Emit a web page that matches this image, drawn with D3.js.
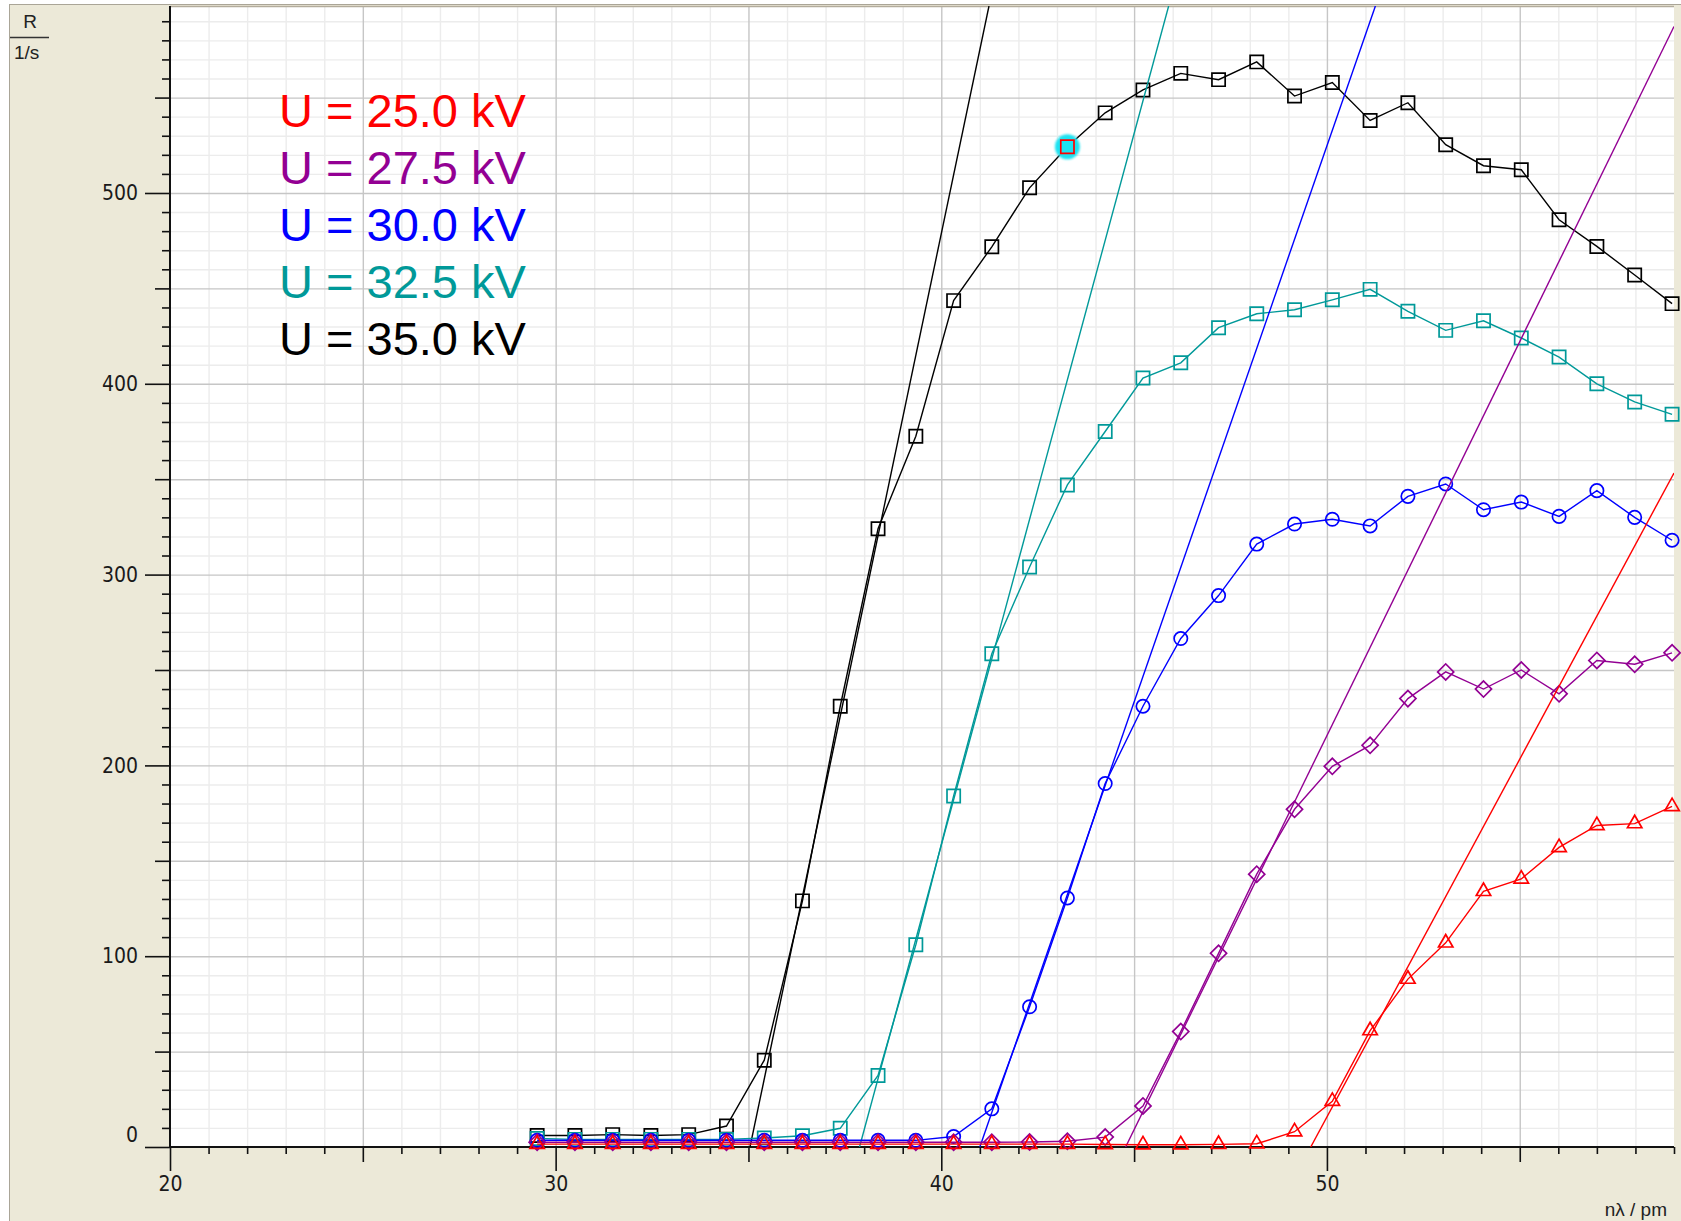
<!DOCTYPE html>
<html>
<head>
<meta charset="utf-8">
<script src="https://cdn.jsdelivr.net/npm/d3@7"></script>
<style>
  body { margin: 0; background: #fff; }
  svg { display: block; }
</style>
</head>
<body>
<svg></svg>
<script>
// wavelength of each measured point (pm)
let lambda = [29.52, 30.50, 31.48, 32.47, 33.45, 34.43, 35.41, 36.40, 37.38, 38.36,
              39.34, 40.32, 41.31, 42.29, 43.27, 44.25, 45.23, 46.21, 47.19, 48.18,
              49.16, 50.14, 51.12, 52.10, 53.08, 54.06, 55.04, 56.02, 57.00, 57.98, 58.95];

// counting rate R in 1/s, one list per tube voltage
let rate25 = [1.5, 1.5, 1.5, 1.5, 1.5, 1.5, 1.5, 1.5, 1.5, 1.5,
              1.5, 1.5, 1.5, 1.5, 1.5, 1.3, 1.2, 1.2, 1.4, 1.7,
              8, 24, 61, 88, 107, 134, 140.5, 157, 168.5, 169.5, 178.5];
let rate275 = [2.5, 2.5, 2.5, 2.5, 2.5, 2.5, 2.5, 2.5, 2.5, 2.5,
               2.5, 2.5, 2.5, 2.6, 3, 5.2, 21.5, 60.5, 101.5, 143, 177,
               199.5, 210.5, 235, 249, 240, 250, 237.5, 255, 253, 259];
let rate30 = [3.5, 3.5, 3.5, 3.5, 3.5, 3.5, 3.5, 3.5, 3.5, 3.5,
              3.5, 5.5, 20, 73.5, 130.5, 190.5, 231, 266.5, 289, 316,
              326.5, 329, 325.5, 341, 347.5, 334, 338, 330.5, 344, 330, 318];
let rate325 = [4.5, 4, 4, 4, 4, 4, 4.7, 5.9, 9.8, 37.5,
               106, 184, 258.5, 304, 347, 375, 403, 411, 429.4, 436.7,
               438.8, 444, 449.5, 438, 428, 433, 424, 414, 400, 390.5, 384];
let rate35 = [6, 6, 6.5, 6, 6.5, 11, 45.5, 129, 231, 324,
              372.5, 443.6, 471.8, 502.7, 524.2, 542, 554, 562.7, 559.4, 568.7,
              550.8, 557.9, 538, 547.3, 525.3, 514.3, 512.2, 486, 472, 457, 442];

let rates = [rate25, rate275, rate30, rate325, rate35];
let voltages = ['25.0', '27.5', '30.0', '32.5', '35.0'];
let colors = ['#ff0000', '#930093', '#0000ff', '#009999', '#000000'];
let markers = ['triangle', 'diamond', 'circle', 'square', 'square'];

// straight-line fits of the rising edge: lambda where R = 0 and slope (1/s per pm)
let fitStart = [49.58, 44.78, 41.0, 37.88, 35.04];
let fitSlope = [37.5, 41.3, 58.3, 74.6, 96.5];

// highlighted point (35 kV series)
let markedIndex = 14;

let xLabelTicks = [20, 30, 40, 50];
let yLabelTicks = [0, 100, 200, 300, 400, 500];

let width = 1681;
let height = 1221;
let plotLeft = 170;
let plotRight = 1674;
let plotTop = 6;
let plotBottom = 1147;
let tickFont = "'Liberation Sans Narrow', 'DejaVu Sans Condensed', sans-serif";

let x = d3.scaleLinear().domain([20, 59]).range([plotLeft, plotRight]);
let y = d3.scaleLinear().domain([0, 598]).range([plotBottom, plotTop]);

let svg = d3.select('svg').attr('width', width).attr('height', height);

// beige panel and white plot area
svg.append('rect').attr('width', width).attr('height', height).attr('fill', '#fff');
svg.append('rect').attr('x', 9.5).attr('y', 4.5).attr('width', width).attr('height', height)
   .attr('fill', '#ece9d8').attr('stroke', '#aaa597');
svg.append('rect').attr('x', plotLeft).attr('y', plotTop)
   .attr('width', plotRight - plotLeft).attr('height', plotBottom - plotTop).attr('fill', '#fff');

let grid = (vals, color, vertical) => {
  let g = svg.append('g');
  if (vertical) {
    g.attr('transform', 'translate(0,' + plotBottom + ')')
     .call(d3.axisBottom(x).tickValues(vals).tickSize(-(plotBottom - plotTop)).tickFormat(''));
  } else {
    g.attr('transform', 'translate(' + plotLeft + ',0)')
     .call(d3.axisLeft(y).tickValues(vals).tickSize(-(plotRight - plotLeft)).tickFormat(''));
  }
  g.select('.domain').remove();
  g.selectAll('line').attr('stroke', color).attr('stroke-width', 1.4);
}
grid(d3.range(21, 59, 1).filter(v => v % 5), '#ececec', true);
grid(d3.range(10, 598, 10).filter(v => v % 50), '#ececec', false);
grid(d3.range(25, 59, 5), '#c6c6c6', true);
grid(d3.range(50, 598, 50), '#c6c6c6', false);

svg.append('line').attr('x1', plotLeft).attr('x2', plotRight).attr('y1', plotTop + 0.5).attr('y2', plotTop + 0.5)
   .attr('stroke', '#b3ac9c').attr('stroke-width', 1.5);

// axis ticks in three lengths
let xAxis = (vals, size, labels) => {
  let g = svg.append('g').attr('transform', 'translate(0,' + plotBottom + ')')
     .call(d3.axisBottom(x).tickValues(vals).tickSize(size).tickPadding(5)
       .tickFormat(labels ? d3.format('d') : ''));
  g.select('.domain').remove();
  g.attr('font-family', tickFont).attr('font-size', 21).attr('color', '#1a1a1a');
  g.selectAll('line').attr('stroke', '#111').attr('stroke-width', 1.6);
}
xAxis(d3.range(21, 60, 1).filter(v => v % 5), 7, false);
xAxis([25, 35, 45, 55], 15, false);
xAxis(xLabelTicks, 24, true);

let yAxis = (vals, size, labels) => {
  let g = svg.append('g').attr('transform', 'translate(' + plotLeft + ',0)')
     .call(d3.axisLeft(y).tickValues(vals).tickSize(size).tickPadding(7)
       .tickFormat(labels ? d3.format('d') : ''));
  g.select('.domain').remove();
  g.attr('font-family', tickFont).attr('font-size', 21).attr('color', '#1a1a1a');
  g.selectAll('line').attr('stroke', '#111').attr('stroke-width', 1.6);
  g.selectAll('text').filter(d => d === 0).attr('dy', '-0.25em');
}
yAxis(d3.range(10, 598, 10).filter(v => v % 50), 8, false);
yAxis([50, 150, 250, 350, 450, 550], 15, false);
yAxis(yLabelTicks, 25, true);

svg.append('line').attr('x1', plotLeft).attr('x2', plotLeft).attr('y1', plotTop).attr('y2', plotBottom + 1)
   .attr('stroke', '#111').attr('stroke-width', 2);
svg.append('line').attr('x1', plotLeft - 1).attr('x2', plotRight).attr('y1', plotBottom).attr('y2', plotBottom)
   .attr('stroke', '#111').attr('stroke-width', 2);

// axis titles
let titleFont = "'Liberation Sans', Arial, sans-serif";
svg.append('text').attr('x', 30).attr('y', 28).attr('text-anchor', 'middle')
   .attr('font-family', titleFont).attr('font-size', 19).attr('fill', '#222').text('R');
svg.append('line').attr('x1', 10).attr('x2', 49).attr('y1', 37.5).attr('y2', 37.5)
   .attr('stroke', '#333').attr('stroke-width', 1.5);
svg.append('text').attr('x', 14).attr('y', 59)
   .attr('font-family', titleFont).attr('font-size', 19).attr('fill', '#222').text('1/s');
svg.append('text').attr('x', 1667).attr('y', 1216).attr('text-anchor', 'end')
   .attr('font-family', titleFont).attr('font-size', 19).attr('fill', '#222').text('nλ / pm');

svg.append('clipPath').attr('id', 'plot-clip').append('rect')
   .attr('x', plotLeft).attr('y', plotTop).attr('width', plotRight - plotLeft).attr('height', plotBottom - plotTop);

let glow = svg.append('filter').attr('id', 'glow');
glow.append('feGaussianBlur').attr('stdDeviation', 1.2);

let symbolPath = (type) => {
  if (type === 'triangle') return d3.symbol(d3.symbolTriangle, 90)();
  if (type === 'circle') return d3.symbol(d3.symbolCircle, 140)();
  if (type === 'diamond') return d3.symbol(d3.symbolSquare, 130)();
  return d3.symbol(d3.symbolSquare, 175)();
}

let line = d3.line().x(d => x(d[0])).y(d => y(d[1]));

// draw 35 kV first so that the lower voltages sit on top
for (let i = rates.length - 1; i >= 0; i--) {
  let points = lambda.map((l, j) => [l, rates[i][j]]);
  let g = svg.append('g');

  let xEnd = Math.min(59, fitStart[i] + 598 / fitSlope[i]);
  g.append('path')
   .datum([[fitStart[i], 0], [xEnd, (xEnd - fitStart[i]) * fitSlope[i]]])
   .attr('d', line).attr('fill', 'none').attr('stroke', colors[i]).attr('stroke-width', 1.4)
   .attr('clip-path', 'url(#plot-clip)');

  g.append('path').datum(points).attr('d', line)
   .attr('fill', 'none').attr('stroke', colors[i]).attr('stroke-width', 1.4);

  if (i === 4) {
    g.append('circle').attr('cx', x(points[markedIndex][0])).attr('cy', y(points[markedIndex][1]))
     .attr('r', 12.5).attr('fill', '#1ee3f2').attr('filter', 'url(#glow)');
  }

  g.selectAll('.marker').data(points).enter().append('path')
   .attr('class', 'marker')
   .attr('d', symbolPath(markers[i]))
   .attr('transform', d => 'translate(' + x(d[0]) + ',' + y(d[1]) + ')' +
         (markers[i] === 'diamond' ? ' rotate(45)' : ''))
   .attr('fill', 'none')
   .attr('stroke', (d, j) => (i === 4 && j === markedIndex) ? '#ff0000' : colors[i])
   .attr('stroke-width', 1.7);
}

// legend
let legend = svg.append('g').attr('font-family', titleFont).attr('font-size', 47);
legend.selectAll('text').data(voltages).enter().append('text')
   .attr('x', 279).attr('y', (d, i) => 127 + 57 * i)
   .attr('fill', (d, i) => colors[i])
   .text(d => 'U = ' + d + ' kV');
</script>
</body>
</html>
